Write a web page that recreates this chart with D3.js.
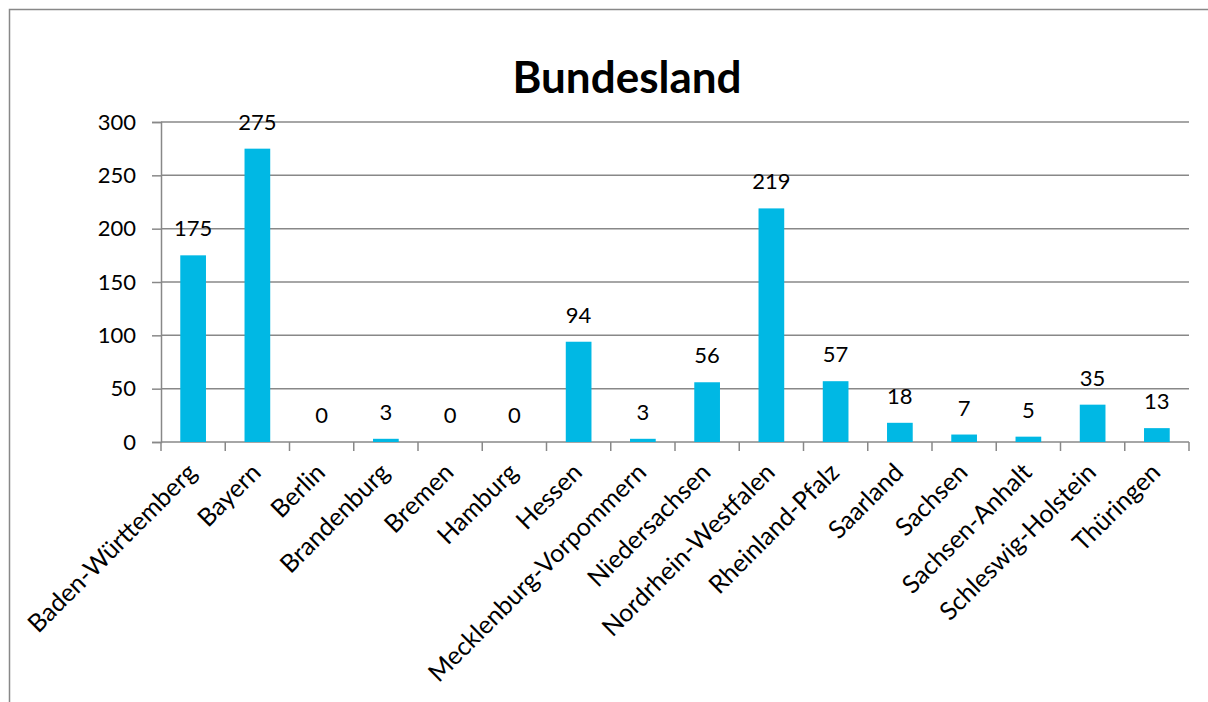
<!DOCTYPE html>
<html>
<head>
<meta charset="utf-8">
<script src="https://cdn.jsdelivr.net/npm/d3@7"></script>
<style>
  body { margin: 0; background: #fff; }
  text { font-family: Lato, "Open Sans", sans-serif; fill: #000; }
</style>
</head>
<body>
<div id="chart"></div>
<script>
var states = ["Baden-Württemberg", "Bayern", "Berlin", "Brandenburg", "Bremen", "Hamburg", "Hessen",
    "Mecklenburg-Vorpommern", "Niedersachsen", "Nordrhein-Westfalen", "Rheinland-Pfalz", "Saarland",
    "Sachsen", "Sachsen-Anhalt", "Schleswig-Holstein", "Thüringen"];
var counts = [175, 275, 0, 3, 0, 0, 94, 3, 56, 219, 57, 18, 7, 5, 35, 13];
var yTicks = [0, 50, 100, 150, 200, 250, 300];

var svg = d3.select("#chart").append("svg").attr("width", 1208).attr("height", 702);

// outer chart frame
svg.append("rect")
    .attr("x", 9.5).attr("y", 9.5)
    .attr("width", 1260).attr("height", 760)
    .style("fill", "none").style("stroke", "#888").style("stroke-width", 1.5);

var plotLeft = 161, plotRight = 1189, plotTop = 122, plotBottom = 442;

var x = d3.scaleBand().domain(states).range([plotLeft, plotRight]).paddingInner(0.6).paddingOuter(0.3);
var xTick = d3.scaleBand().domain(states).range([plotLeft, plotRight]);
var y = d3.scaleLinear().domain([0, 300]).range([plotBottom, plotTop]);

svg.append("text")
    .attr("x", 627).attr("y", 93)
    .attr("text-anchor", "middle")
    .style("font-size", "44px").style("font-weight", "bold")
    .text("Bundesland");

// gridlines
svg.append("g").selectAll("line")
    .data(yTicks.filter(function(d) { return d > 0; }))
    .enter().append("line")
    .attr("x1", plotLeft).attr("x2", plotRight)
    .attr("y1", function(d) { return y(d); }).attr("y2", function(d) { return y(d); })
    .style("stroke", "#888").style("stroke-width", 1.5);

// y axis
var yAxis = svg.append("g")
    .attr("transform", "translate(" + plotLeft + ",0)")
    .call(d3.axisLeft(y).tickValues(yTicks).tickSize(9).tickPadding(16));
yAxis.select(".domain").style("stroke", "#888").style("stroke-width", 1.5);
yAxis.selectAll(".tick line").style("stroke", "#888").style("stroke-width", 1.5);
yAxis.selectAll("text").style("font-size", "22px").style("font-family", "Lato");

// x axis ticks at band edges
svg.append("line")
    .attr("x1", plotLeft).attr("x2", plotRight).attr("y1", plotBottom).attr("y2", plotBottom)
    .style("stroke", "#888").style("stroke-width", 1.5);
var edges = states.map(function(d) { return xTick(d); }).concat([plotRight]);
svg.append("g").selectAll("line")
    .data(edges)
    .enter().append("line")
    .attr("x1", function(d) { return d; }).attr("x2", function(d) { return d; })
    .attr("y1", plotBottom).attr("y2", plotBottom + 9)
    .style("stroke", "#888").style("stroke-width", 1.5);

// bars
svg.append("g").selectAll("rect")
    .data(counts)
    .enter().append("rect")
    .attr("x", function(d, i) { return x(states[i]); })
    .attr("width", x.bandwidth())
    .attr("y", function(d) { return y(d); })
    .attr("height", function(d) { return plotBottom - y(d); })
    .style("fill", "#00B8E4");

// value labels
svg.append("g").selectAll("text")
    .data(counts)
    .enter().append("text")
    .attr("x", function(d, i) { return x(states[i]) + x.bandwidth() / 2; })
    .attr("y", function(d) { return y(d) - 19; })
    .attr("text-anchor", "middle")
    .style("font-size", "22px")
    .text(function(d) { return d; });

// category labels
svg.append("g").selectAll("text")
    .data(states)
    .enter().append("text")
    .attr("text-anchor", "end")
    .attr("transform", function(d) {
        var cx = xTick(d) + xTick.bandwidth() / 2 + 5;
        return "translate(" + cx + "," + (plotBottom + 32) + ") rotate(-45)";
    })
    .style("font-size", "25px")
    .text(function(d) { return d; });
</script>
</body>
</html>
